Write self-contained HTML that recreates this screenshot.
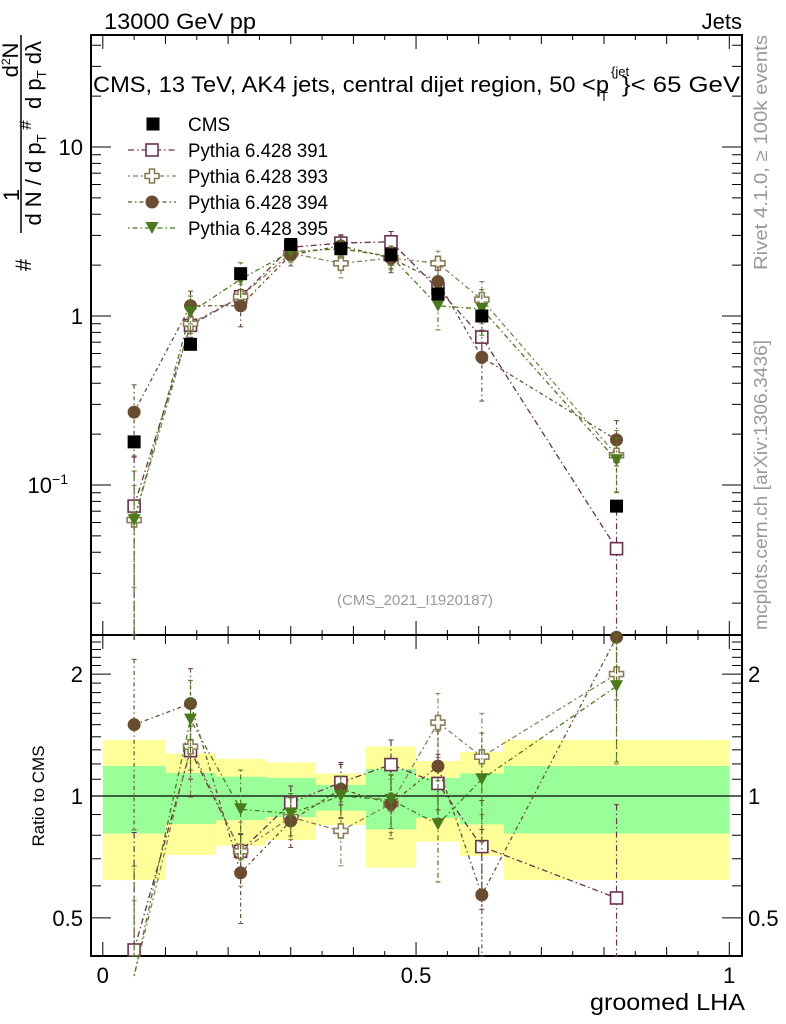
<!DOCTYPE html>
<html><head><meta charset="utf-8"><style>
html,body{margin:0;padding:0;background:#fff;}
svg{display:block;font-family:"Liberation Sans",sans-serif;}
</style></head><body>
<svg id="chart" width="786" height="1024" viewBox="0 0 786 1024" xmlns="http://www.w3.org/2000/svg">
<g id="bands"></g>
<g id="axes"></g>
<g id="series"></g>
<text x="104" y="29" font-size="22" textLength="152" lengthAdjust="spacingAndGlyphs">13000 GeV pp</text>
<text x="742" y="29" font-size="22" text-anchor="end">Jets</text>
<g>
<text x="93" y="92" font-size="22" textLength="516" lengthAdjust="spacingAndGlyphs">CMS, 13 TeV, AK4 jets, central dijet region, 50 &lt;p</text>
<text x="611" y="76" font-size="13">{jet</text>
<text x="600" y="101" font-size="13">T</text>
<text x="622" y="92" font-size="22" textLength="118" lengthAdjust="spacingAndGlyphs">}&lt; 65 GeV</text>
</g>
<text x="415" y="605" font-size="15" fill="#999" text-anchor="middle">(CMS_2021_I1920187)</text>
<text transform="translate(767,35) rotate(-90)" font-size="18" fill="#999" text-anchor="end" textLength="235" lengthAdjust="spacingAndGlyphs">Rivet 4.1.0, ≥ 100k events</text>
<text transform="translate(767,340) rotate(-90)" font-size="18" fill="#999" text-anchor="end" textLength="290" lengthAdjust="spacingAndGlyphs">mcplots.cern.ch [arXiv:1306.3436]</text>
<g font-size="22">
<line x1="21" y1="35" x2="21" y2="233" stroke="#000" stroke-width="1.5"/>
<text transform="translate(19,195) rotate(-90)" text-anchor="middle">1</text>
<text transform="translate(31,265) rotate(-90)" text-anchor="middle">#</text>
<text transform="translate(41,180) rotate(-90)" text-anchor="middle">d N / d p<tspan font-size="13" dy="5">T</tspan></text>
<text transform="translate(31,125) rotate(-90)" text-anchor="middle" font-size="17">#</text>
<text transform="translate(18,60) rotate(-90)" text-anchor="middle">d<tspan font-size="12" dy="-8">2</tspan><tspan dy="8">N</tspan></text>
<text transform="translate(41,75) rotate(-90)" text-anchor="middle">d p<tspan font-size="13" dy="5">T</tspan><tspan dy="-5"> dλ</tspan></text>
</g>
<text transform="translate(44,796) rotate(-90)" font-size="17" text-anchor="middle">Ratio to CMS</text>
<text x="745" y="1010" font-size="23" text-anchor="end" textLength="155" lengthAdjust="spacingAndGlyphs">groomed LHA</text>
<g id="legend"></g>
</svg>
<script>
// ---- data ----
const binCenters = [0.05, 0.14, 0.22, 0.30, 0.38, 0.46, 0.535, 0.605, 0.82];
const binEdges = [0, 0.1, 0.18, 0.26, 0.34, 0.42, 0.5, 0.57, 0.64, 1.0];
const cmsValues = [0.18, 0.68, 1.78, 2.65, 2.5, 2.3, 1.35, 1.0, 0.075];
const bandYellowUp = [1.375, 1.274, 1.235, 1.21, 1.136, 1.326, 1.22, 1.284, 1.375];
const bandYellowDn = [0.62, 0.715, 0.754, 0.779, 0.848, 0.665, 0.771, 0.712, 0.62];
const bandGreenUp = [1.186, 1.14, 1.116, 1.108, 1.065, 1.166, 1.108, 1.136, 1.186];
const bandGreenDn = [0.808, 0.853, 0.872, 0.887, 0.92, 0.827, 0.882, 0.851, 0.808];
const p391 = [0.075, 0.88, 1.3, 2.55, 2.7, 2.75, 1.45, 0.75, 0.042];
const p393 = [0.062, 0.9, 1.3, 2.35, 2.05, 2.2, 2.05, 1.25, 0.15];
const p394 = [0.27, 1.15, 1.15, 2.3, 2.6, 2.2, 1.6, 0.57, 0.185];
const p395 = [0.062, 1.05, 1.65, 2.4, 2.5, 2.25, 1.15, 1.1, 0.14];
const e391 = [0.95, 0.15, 0.1, 0.1, 0.12, 0.15, 0.18, 0.3, 0.7];
const e393 = [0.6, 0.25, 0.18, 0.12, 0.18, 0.15, 0.18, 0.28, 0.4];
const e394 = [0.45, 0.22, 0.25, 0.14, 0.15, 0.18, 0.22, 0.45, 0.3];
const e395 = [0.95, 0.25, 0.25, 0.12, 0.12, 0.15, 0.28, 0.3, 0.35];
const seriesNames = ["Pythia 6.428 391", "Pythia 6.428 393", "Pythia 6.428 394", "Pythia 6.428 395"];
const mainTickLabels = ["10", "1", "10"];
const ratioTickValues = [0.5, 1, 2];
const xTickValues = [0, 0.5, 1];

// ---- axes ----
const NS = "http://www.w3.org/2000/svg";
const FL = 91, FR = 742, MT = 35, MB = 635, RB = 956;
const X = v => 102.8 + 626.5 * v;
const Y = v => 316 - 169 * Math.log10(v);
const R = r => 796 - 405 * Math.log10(r);
function mk(tag, attrs, parent) {
  const e = document.createElementNS(NS, tag);
  for (const k in attrs) e.setAttribute(k, attrs[k]);
  parent.appendChild(e);
  return e;
}
const axes = document.getElementById('axes');
const bands = document.getElementById('bands');
const ser = document.getElementById('series');

for (let i = 0; i < binCenters.length; i++) {
  const x0 = X(binEdges[i]), x1 = X(binEdges[i + 1]);
  const yb = mk('rect', {x: x0, y: R(bandYellowUp[i]), width: x1 - x0, height: R(bandYellowDn[i]) - R(bandYellowUp[i]), fill: '#ffff99'}, bands);
  
  
  const gb = mk('rect', {x: x0, y: R(bandGreenUp[i]), width: x1 - x0, height: R(bandGreenDn[i]) - R(bandGreenUp[i]), fill: '#99ff99'}, bands);
  
  
}
mk('line', {x1: FL, x2: FR, y1: R(1), y2: R(1), stroke: '#000', 'stroke-width': 1.3}, axes);

mk('rect', {x: FL, y: MT, width: FR - FL, height: MB - MT, fill: 'none', stroke: '#000', 'stroke-width': 2}, axes);
mk('rect', {x: FL, y: MB, width: FR - FL, height: RB - MB, fill: 'none', stroke: '#000', 'stroke-width': 2}, axes);

for (let k = 0; k <= 20; k++) {
  const v = k * 0.05, x = X(v);
  const L = (k % 10 === 0) ? 14 : (k % 2 === 0 ? 9 : 5);
  [[MT, 1], [MB, -1], [MB, 1], [RB, -1]].forEach(([y0, d]) => mk('line', {x1: x, x2: x, y1: y0, y2: y0 + d * L, stroke: '#000', 'stroke-width': 1}, axes));
}
xTickValues.forEach(v => {
  const t = mk('text', {x: X(v), y: 983, 'font-size': 22, 'text-anchor': 'middle'}, axes);
  t.textContent = String(v);
  
  
});
for (let dec = -2; dec <= 1; dec++) {
  for (let m = 1; m <= 9; m++) {
    const v = m * Math.pow(10, dec), y = Y(v);
    if (y < MT || y > MB) continue;
    const L = m === 1 ? 20 : 10;
    mk('line', {x1: FL, x2: FL + L, y1: y, y2: y, stroke: '#000'}, axes);
    mk('line', {x1: FR, x2: FR - L, y1: y, y2: y, stroke: '#000'}, axes);
  }
}
[10, 1, 0.1].forEach((v, i) => {
  const t = mk('text', {x: 83, y: Y(v) + 8, 'font-size': 22, 'text-anchor': 'end'}, axes);
  t.textContent = mainTickLabels[i];
  if (i === 2) { t.setAttribute('x', 68); const s = mk('tspan', {dy: -9, 'font-size': 14}, t); s.textContent = '−1'; }
  
  
});
for (let r = 0.4; r <= 2.51; r += 0.1) {
  const y = R(r);
  if (y < MB || y > RB) continue;
  const major = ratioTickValues.some(q => Math.abs(q - r) < 1e-6);
  const L = major ? 20 : 10;
  mk('line', {x1: FL, x2: FL + L, y1: y, y2: y, stroke: '#000'}, axes);
  mk('line', {x1: FR, x2: FR - L, y1: y, y2: y, stroke: '#000'}, axes);
}
ratioTickValues.forEach(v => {
  const t = mk('text', {x: 83, y: R(v) + 8, 'font-size': 22, 'text-anchor': 'end'}, axes);
  t.textContent = String(v);
  
  
  const t2 = mk('text', {x: 748, y: R(v) + 8, 'font-size': 22}, axes);
  t2.textContent = String(v);
  
  
});

// ---- series ----
const seriesVals = [p391, p393, p394, p395];
const seriesErr = [e391, e393, e394, e395];
const colors = ['#6b3050', '#8b7d55', '#6b4c30', '#4a7a1a'];
const dashes = ['6,3,1.5,3', '2,3,5,3', '4,3,1.5,3', '1.5,3,5,3'];
const markers = ['osq', 'cross', 'circ', 'tri'];
function marker(type, x, y, c, g) {
  if (type === 'osq') return mk('rect', {x: x - 6, y: y - 6, width: 12, height: 12, fill: '#fff', stroke: c, 'stroke-width': 1.6}, g);
  if (type === 'cross') return mk('path', {d: `M${x-2.5},${y-7}h5v4.5h4.5v5h-4.5v4.5h-5v-4.5h-4.5v-5h4.5z`, fill: '#fff', stroke: c, 'stroke-width': 1.6}, g);
  if (type === 'circ') return mk('circle', {cx: x, cy: y, r: 6.5, fill: c}, g);
  if (type === 'tri') return mk('path', {d: `M${x-6.5},${y-6}h13l-6.5,12z`, fill: c}, g);
  return mk('rect', {x: x - 6.5, y: y - 6.5, width: 13, height: 13, fill: c}, g);
}
function clipY(y, lo, hi) { return Math.max(lo, Math.min(hi, y)); }
seriesVals.forEach((vals, s) => {
  const g = mk('g', {}, ser);
  
  
  const c = colors[s], err = seriesErr[s];
  const pts = vals.map((v, i) => X(binCenters[i]) + ',' + Y(v)).join(' ');
  mk('polyline', {points: pts, fill: 'none', stroke: c, 'stroke-width': 1.3, 'stroke-dasharray': dashes[s]}, g);
  const rv = vals.map((v, i) => v / cmsValues[i]);
  const rpts = rv.map((r, i) => X(binCenters[i]) + ',' + clipY(R(r), MB, RB + 20)).join(' ');
  mk('polyline', {points: rpts, fill: 'none', stroke: c, 'stroke-width': 1.3, 'stroke-dasharray': dashes[s]}, g);
  vals.forEach((v, i) => {
    const x = X(binCenters[i]);
    const up = v * (1 + err[i]), dn = v * Math.max(0.002, 1 - err[i]);
    const y1 = clipY(Y(up), MT, MB), y2 = clipY(Y(dn), MT, MB);
    mk('line', {x1: x, x2: x, y1: y1, y2: y2, stroke: c, 'stroke-width': 1.2, 'stroke-dasharray': dashes[s]}, g);
    mk('line', {x1: x - 2.5, x2: x + 2.5, y1: y1, y2: y1, stroke: c}, g);
    mk('line', {x1: x - 2.5, x2: x + 2.5, y1: y2, y2: y2, stroke: c}, g);
    const m = marker(markers[s], x, Y(v), c, g);
    
    
    const r = rv[i];
    const ry1 = clipY(R(r * (1 + err[i])), MB, RB), ry2 = clipY(R(r * Math.max(0.002, 1 - err[i])), MB, RB);
    mk('line', {x1: x, x2: x, y1: ry1, y2: ry2, stroke: c, 'stroke-width': 1.2, 'stroke-dasharray': dashes[s]}, g);
    mk('line', {x1: x - 2.5, x2: x + 2.5, y1: ry1, y2: ry1, stroke: c}, g);
    mk('line', {x1: x - 2.5, x2: x + 2.5, y1: ry2, y2: ry2, stroke: c}, g);
    const ry = R(r);
    if (ry >= MB - 2 && ry <= RB + 2) {
      const rm = marker(markers[s], x, ry, c, g);
      
      
    }
  });
});
const cg = mk('g', {}, ser);


cmsValues.forEach((v, i) => {
  const m = marker('sq', X(binCenters[i]), Y(v), '#000', cg);
  
  
});

// ---- legend ----
const lg = document.getElementById('legend');
const ly = [124, 150, 176, 202, 228];
const e0 = mk('g', {}, lg);


marker('sq', 153, ly[0], '#000', e0);
const t0 = mk('text', {x: 188, y: ly[0] + 7, 'font-size': 19}, e0); t0.textContent = 'CMS';
seriesNames.forEach((n, s) => {
  const e = mk('g', {}, lg);
  
  
  const y = ly[s + 1];
  mk('line', {x1: 128, x2: 176, y1: y, y2: y, stroke: colors[s], 'stroke-width': 1.3, 'stroke-dasharray': dashes[s]}, e);
  marker(markers[s], 152, y, colors[s], e);
  const t = mk('text', {x: 188, y: y + 7, 'font-size': 19, textLength: 140, lengthAdjust: 'spacingAndGlyphs'}, e); t.textContent = n;
});
</script>
</body></html>
